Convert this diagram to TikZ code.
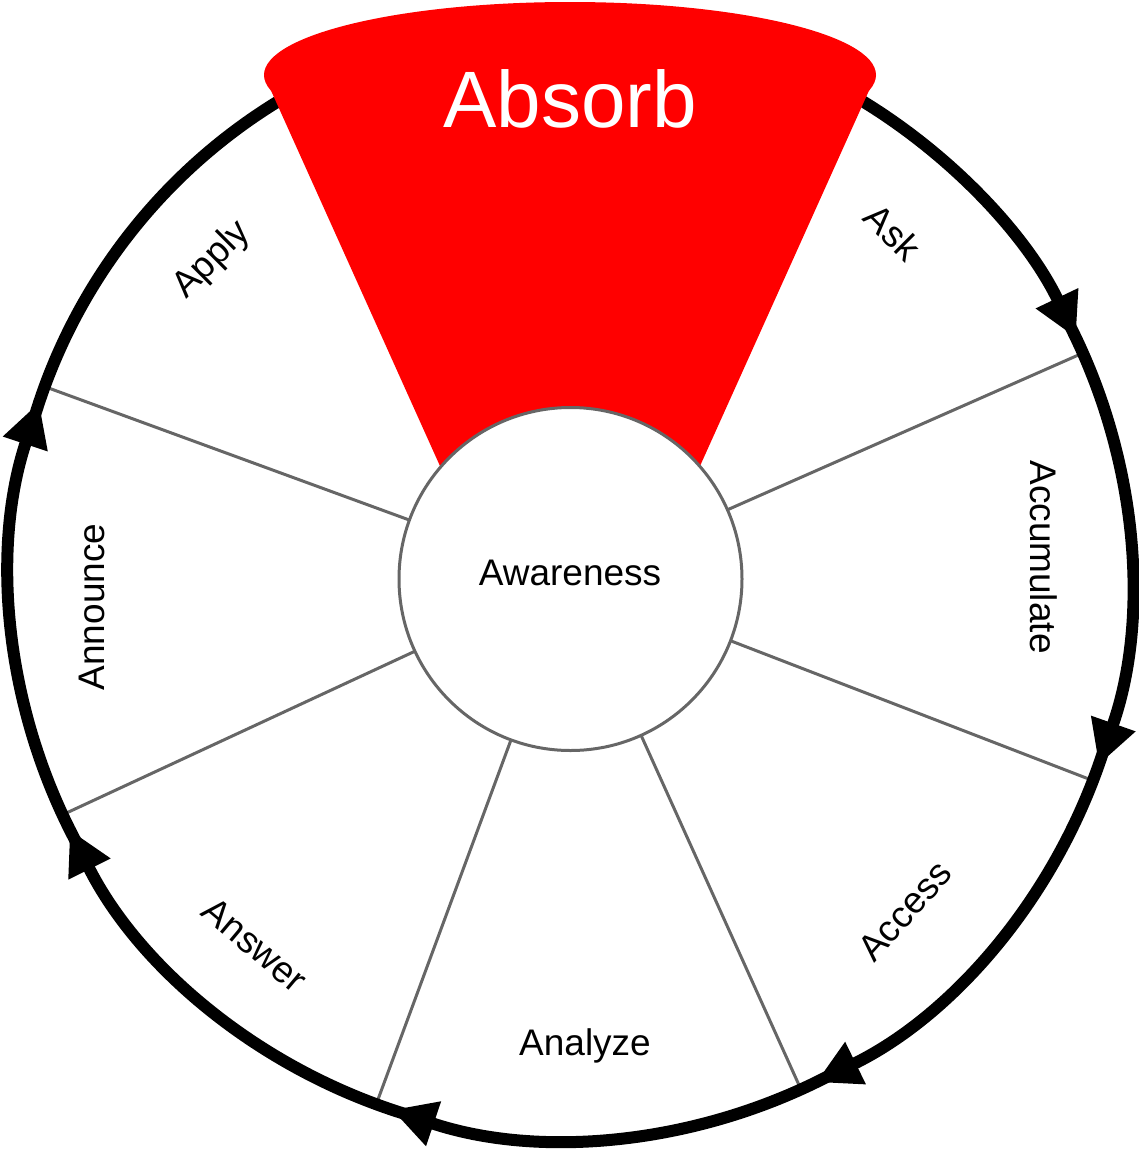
\documentclass[tikz,border=0pt]{standalone}
\usepackage{fontspec}
\setmainfont{Liberation Sans}
\usetikzlibrary{arrows.meta}
\definecolor{SpokeGray}{HTML}{666666}

\begin{document}
\begin{tikzpicture}[x=1pt,y=1pt,
  ring/.style={line width=12pt,black},
  ringarr/.style={ring,-{Triangle[length=44pt,width=44pt]}},
  spoke/.style={line width=3pt,SpokeGray},
  hub/.style={circle,draw=SpokeGray,line width=3pt,fill=white,minimum size=343pt,inner sep=0pt},
  lbl/.style={font=\fontsize{37}{44}\selectfont},
  title/.style={font=\fontsize{80}{96}\selectfont,text=white}
]
  \useasboundingbox (0,0) rectangle (1139,-1152);
  \coordinate (c) at (570.5,-579);
  \begin{scope}[shift={(c)}]
    \foreach \a in {23.8,-21.1,-65.7,-110.3,-155.1,159.9}
      \draw[spoke] (\a:171.5) -- (\a:560);
    \foreach \s/\e in {60/25.5,28/-19.4,-16.9/-64,-61.5/-108.6,-106.1/-153.4,-150.9/-198.4}
      \draw[ringarr] (\s:560) arc[start angle=\s,end angle=\e,radius=560];
    \draw[ring] (164.1:560) arc[start angle=164.1,end angle=118,radius=560];
  \end{scope}
  \fill[red] (570,-75) ellipse[x radius=306,y radius=73];
  \fill[red] (264,-75) -- (876,-75) -- (675.7,-520) -- (464.3,-520) -- cycle;
  \node[hub] (hub) at (c) {};
  \node[title,anchor=base] (absorb) at (570,-127) {Absorb};
  \node[lbl,anchor=base] (aware) at (570,-585) {Awareness};
  \node[lbl,rotate=-45] (ask) at (893,-232) {Ask};
  \node[lbl,rotate=-90] (accum) at (1044,-557) {Accumulate};
  \node[lbl,rotate=48] (access) at (905,-911) {Access};
  \node[lbl,anchor=base] (analyze) at (585,-1055) {Analyze};
  \node[lbl,rotate=-40] (answer) at (255,-945) {Answer};
  \node[lbl,rotate=90] (announce) at (92,-607) {Announce};
  \node[lbl,rotate=45] (apply) at (212,-260) {Apply};
\end{tikzpicture}
\end{document}
